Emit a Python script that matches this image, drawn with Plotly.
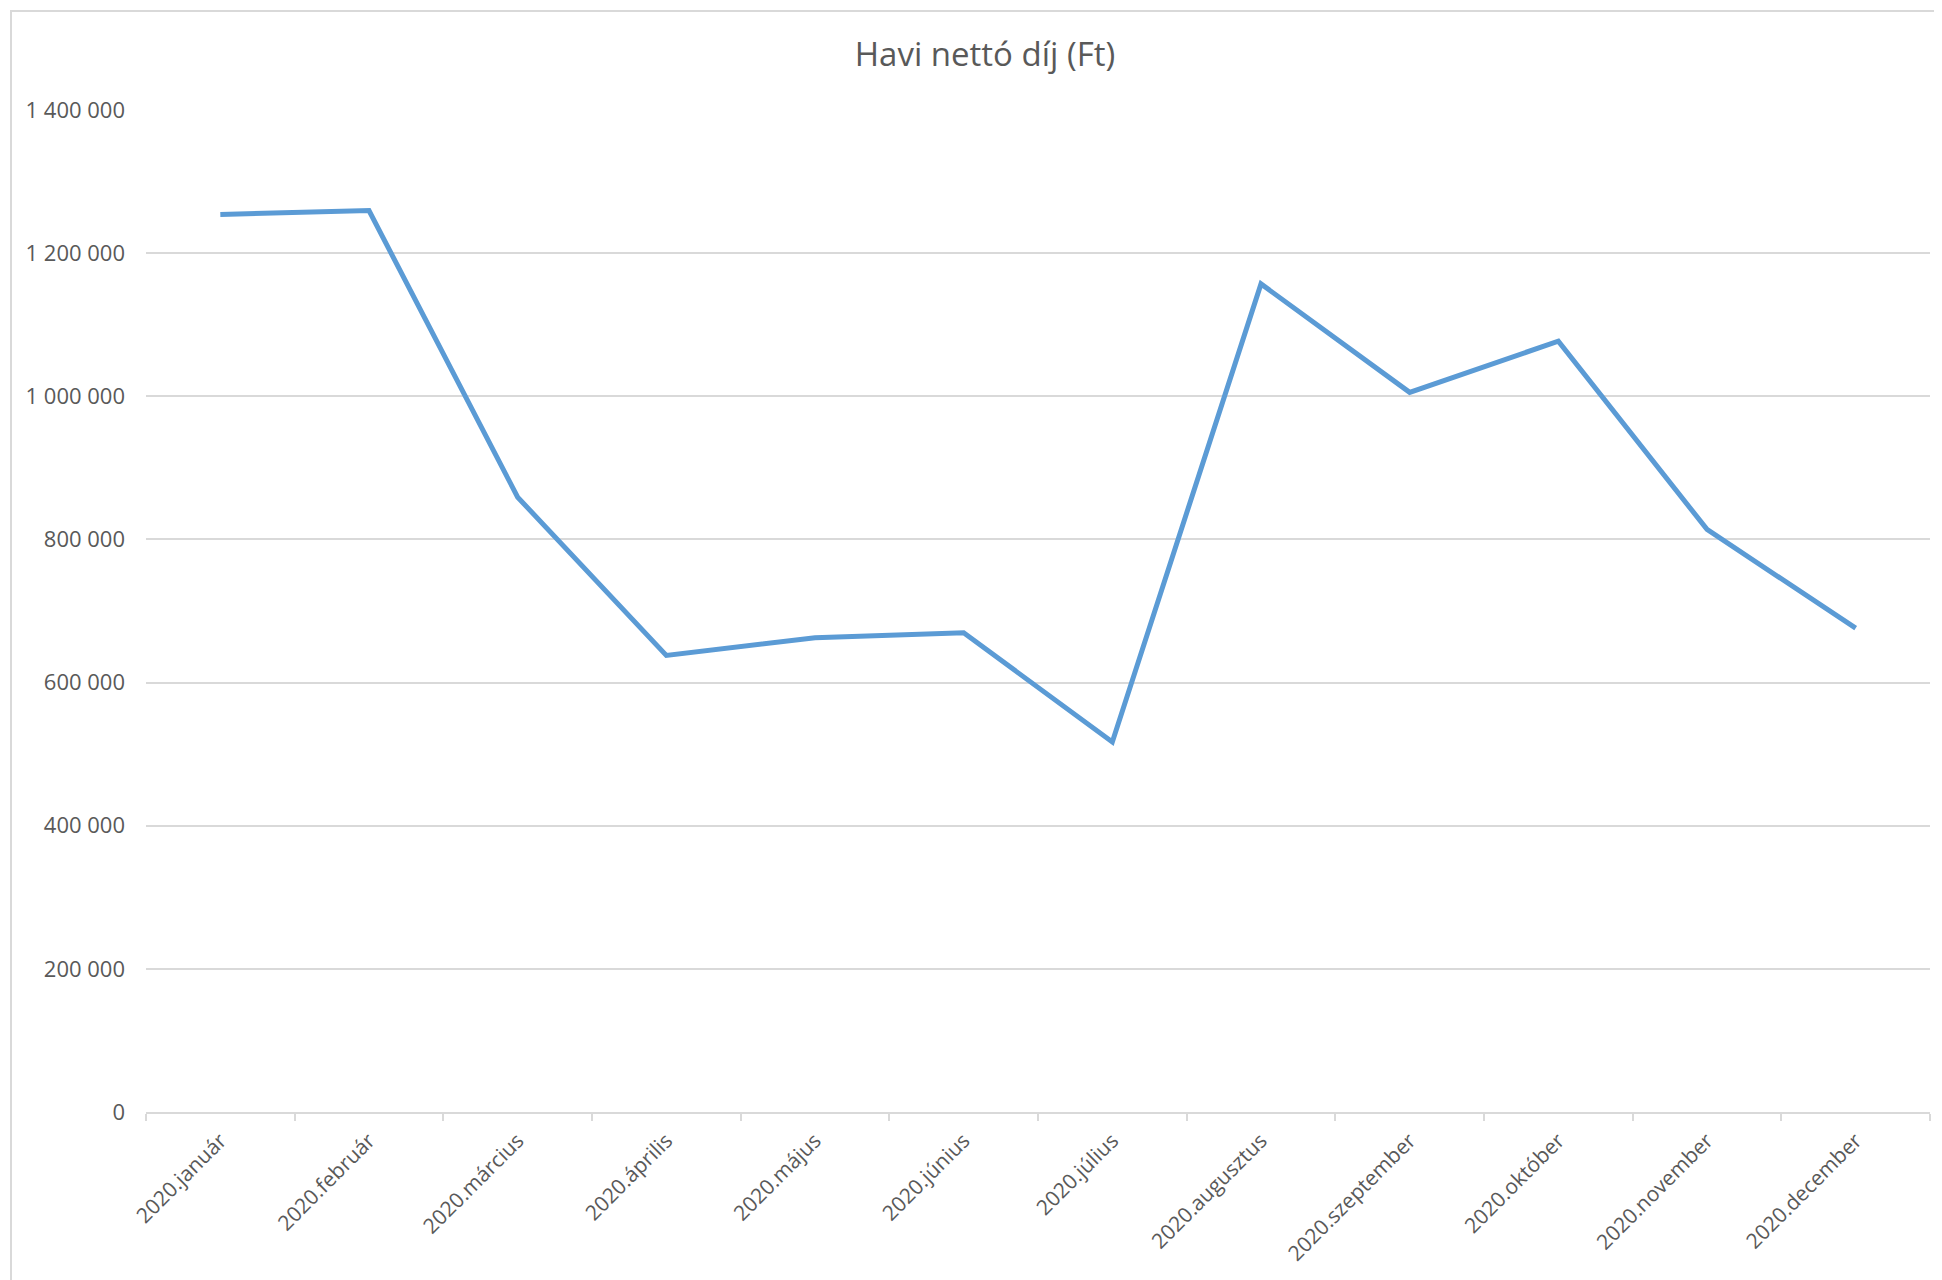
import plotly.graph_objects as go

months = ["2020.január", "2020.február", "2020.március", "2020.április", "2020.május",
          "2020.június", "2020.július", "2020.augusztus", "2020.szeptember",
          "2020.október", "2020.november", "2020.december"]
values = [1254000, 1259500, 859000, 638000, 662500, 669500, 517000,
          1157000, 1005500, 1077000, 814000, 676000]
y_ticks = [0, 200000, 400000, 600000, 800000, 1000000, 1200000, 1400000]
title_text = "Havi nettó díj (Ft)"

W, H = 1942, 1280
OFF = 8  # page body margin
L, R, T, B = 146 - OFF, 12 + OFF, 110 - OFF, 168 + OFF

fig = go.Figure()
fig.add_trace(go.Scatter(
    x=months, y=values, mode="lines",
    line=dict(color="#5B9BD5", width=5, shape="linear"),
    hoverinfo="x+y",
))

pw, ph = W - L - R, H - T - B
def px_to_paper_x(px):
    return (px - OFF - L) / pw
def px_to_paper_y(py):
    return 1 - (py - OFF - T) / ph

fig.update_layout(
    width=W, height=H,
    margin=dict(l=L, r=R, t=T, b=B, pad=0),
    paper_bgcolor="white", plot_bgcolor="white",
    separators=". ",
    showlegend=False,
    font=dict(family="Open Sans", color="#595959", size=22),
    title=dict(text=title_text, x=(985 - OFF) / W, xref="container", xanchor="center",
               y=1 - (54 - OFF) / H, yref="container", yanchor="middle",
               font=dict(family="Open Sans", size=33, color="#595959")),
    xaxis=dict(
        type="category", tickangle=-45, tickson="boundaries",
        ticks="outside", ticklen=7, tickcolor="#D9D9D9", tickwidth=2,
        showline=True, linecolor="#D9D9D9", linewidth=2,
        showgrid=False, zeroline=False,
        ticklabelstandoff=6,
        tickfont=dict(size=21, color="#595959"),
        range=[-0.5, len(months) - 0.5],
    ),
    yaxis=dict(
        range=[0, 1400000], tickvals=y_ticks, tickformat=",d",
        showgrid=True, gridcolor="#D9D9D9", gridwidth=2,
        zeroline=False, showline=False, ticks="",
        ticklabelstandoff=20,
        tickfont=dict(size=22, color="#595959"),
    ),
    shapes=[dict(
        type="rect", xref="paper", yref="paper",
        x0=px_to_paper_x(11), x1=px_to_paper_x(W + 20),
        y0=px_to_paper_y(H + 20), y1=px_to_paper_y(11),
        line=dict(color="#D9D9D9", width=2), layer="below",
    )],
)

fig.write_html("out.html")
